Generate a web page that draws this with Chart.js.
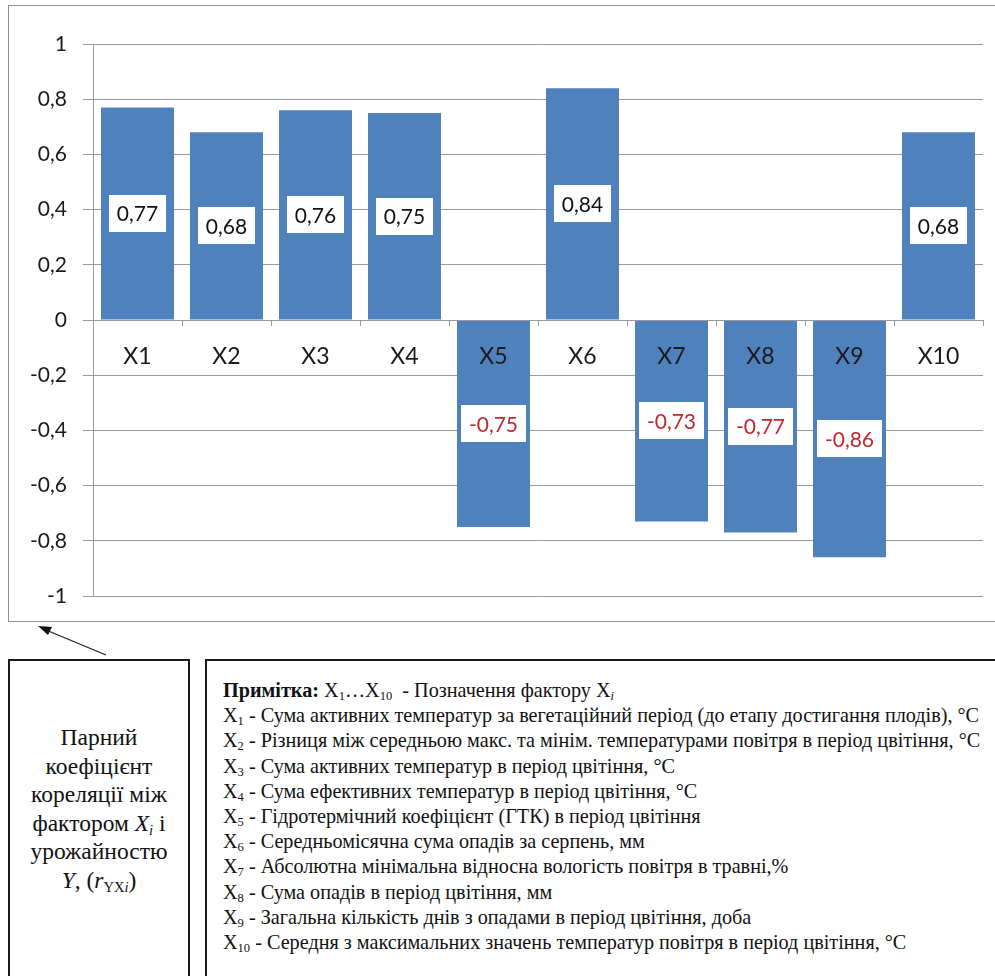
<!DOCTYPE html>
<html lang="uk">
<head>
<meta charset="utf-8">
<title>Парний коефіцієнт кореляції між фактором Xi і урожайністю Y</title>
<script src="https://cdn.jsdelivr.net/npm/chart.js@4/dist/chart.umd.min.js"></script>
<style>
  html, body { margin: 0; padding: 0; background: #fff; width: 995px; height: 976px; overflow: hidden; }
  #frame { position: absolute; left: 8px; top: 5px; width: 1000px; height: 617px; border: 1.5px solid #8e8e8e; box-sizing: border-box; }
  #chartWrap { position: absolute; left: 0; top: 0; width: 995px; height: 625px; }
  .box { position: absolute; border: 2px solid #1a1a1a; box-sizing: border-box; background: #fff;
         font-family: "Liberation Serif", "Times New Roman", "DejaVu Serif", serif; color: #111; }
  #legendBox { left: 8px; top: 659px; width: 182px; height: 340px; text-align: center;
               font-size: 23.5px; line-height: 28.6px; padding-top: 62px; }
  #noteBox { left: 205px; top: 659px; width: 820px; height: 340px; padding: 17px 0 0 16px;
             font-size: 20.2px; line-height: 25.2px; white-space: nowrap; }
  sub { font-size: 62%; vertical-align: -0.25em; line-height: 0; }
  #arrow { position: absolute; left: 0; top: 600px; }
</style>
</head>
<body>
<div id="frame"></div>
<div id="chartWrap"><canvas id="chart" width="995" height="625"></canvas></div>

<svg id="arrow" width="140" height="70">
  <line x1="106" y1="55" x2="46" y2="30" stroke="#222" stroke-width="1.3"/>
  <polygon points="38,26 52,27 48,35" fill="#111"/>
</svg>

<div class="box" id="legendBox">
  Парний<br>коефіцієнт<br>кореляції між<br>фактором <i>X<sub>i</sub></i> і<br>урожайностю<br><i>Y</i>, (<i>r</i><sub>YX<i>i</i></sub>)
</div>

<div class="box" id="noteBox">
  <b>Примітка:</b> X<sub>1</sub>…X<sub>10</sub> &nbsp;- Позначення фактору X<sub><i>i</i></sub><br>
  X<sub>1</sub> - Сума активних температур за вегетаційний період (до етапу достигання плодів), °C<br>
  X<sub>2</sub> - Різниця між середньою макс. та мінім. температурами повітря в період цвітіння, °C<br>
  X<sub>3</sub> - Сума активних температур в період цвітіння, °C<br>
  X<sub>4</sub> - Сума ефективних температур в період цвітіння, °C<br>
  X<sub>5</sub> - Гідротермічний коефіцієнт (ГТК) в період цвітіння<br>
  X<sub>6</sub> - Середньомісячна сума опадів за серпень, мм<br>
  X<sub>7</sub> - Абсолютна мінімальна відносна вологість повітря в травні,%<br>
  X<sub>8</sub> - Сума опадів в період цвітіння, мм<br>
  X<sub>9</sub> - Загальна кількість днів з опадами в період цвітіння, доба<br>
  X<sub>10</sub> - Середня з максимальних значень температур повітря в період цвітіння, °C
</div>

<script>
// Factors and their pair correlation with yield
const factors = ['X1', 'X2', 'X3', 'X4', 'X5', 'X6', 'X7', 'X8', 'X9', 'X10'];
const correlations = [0.77, 0.68, 0.76, 0.75, -0.75, 0.84, -0.73, -0.77, -0.86, 0.68];
const yMin = -1;
const yMax = 1;
const yStep = 0.2;

const chartFont = 'Lato, "Open Sans", "DejaVu Sans", sans-serif';
const barColor = '#4f81bd';
const gridColor = '#9a9a9a';

// Decimal comma, as used in the labels
function commaNumber(v, digits) {
  const r = Math.round(v * 100) / 100;
  if (Number.isInteger(r) && digits === 1) return String(r);
  return r.toFixed(digits).replace('.', ',');
}

// Value labels in white boxes, centred on each bar
const valueBoxes = {
  id: 'valueBoxes',
  afterDatasetsDraw(chart) {
    const ctx = chart.ctx;
    const meta = chart.getDatasetMeta(0);
    const values = chart.data.datasets[0].data;
    ctx.save();
    ctx.font = '21px ' + chartFont;
    ctx.textAlign = 'center';
    ctx.textBaseline = 'middle';
    meta.data.forEach((bar, i) => {
      const v = values[i];
      const text = commaNumber(v, 2);
      const c = bar.getCenterPoint();
      const w = ctx.measureText(text).width + 16;
      const h = 37;
      ctx.fillStyle = '#ffffff';
      ctx.fillRect(Math.round(c.x - w / 2), Math.round(c.y - h / 2), Math.round(w), h);
      ctx.fillStyle = v < 0 ? '#c4262e' : '#111111';
      ctx.fillText(text, c.x, c.y + 1);
    });
    ctx.restore();
  }
};

new Chart(document.getElementById('chart'), {
  type: 'bar',
  data: {
    labels: factors,
    datasets: [{
      data: correlations,
      backgroundColor: barColor,
      borderWidth: 0,
      barPercentage: 0.82,
      categoryPercentage: 1.0
    }]
  },
  options: {
    responsive: false,
    animation: false,
    devicePixelRatio: 1,
    layout: { padding: { left: 0, top: 44, right: 12, bottom: 29 } },
    plugins: {
      legend: { display: false },
      tooltip: { enabled: false }
    },
    scales: {
      x: {
        position: { y: 0 },
        offset: true,
        grid: { drawOnChartArea: false, drawTicks: true, tickLength: 5, color: gridColor, offset: true, z: 1 },
        border: { display: true, color: gridColor, width: 1, z: 1 },
        ticks: { z: 1, color: '#1a1a1a', padding: 18, font: { family: chartFont, size: 23 } }
      },
      y: {
        min: yMin,
        max: yMax,
        afterFit(scale) { scale.width = 93; },
        grid: { color: gridColor, lineWidth: 1, tickLength: 10, drawTicks: true },
        border: { display: true, color: gridColor, width: 1 },
        ticks: {
          stepSize: yStep,
          color: '#1a1a1a',
          padding: 16,
          font: { family: chartFont, size: 21 },
          callback: (v) => commaNumber(v, 1)
        }
      }
    }
  },
  plugins: [valueBoxes]
});
</script>
</body>
</html>
